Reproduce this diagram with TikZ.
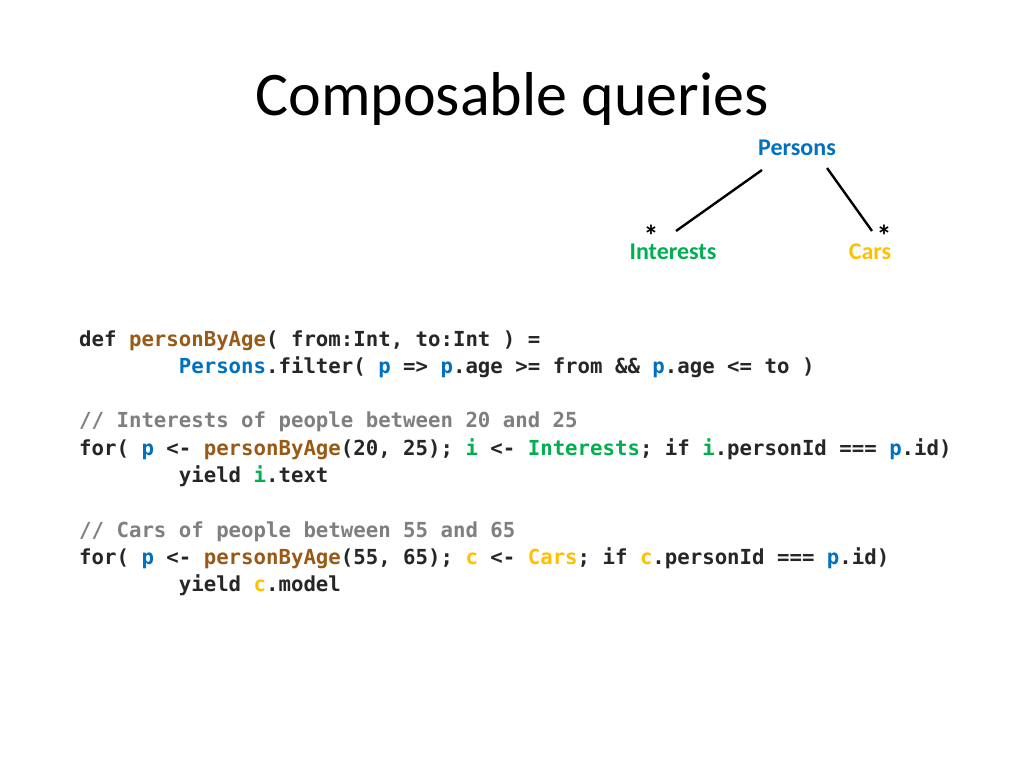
\documentclass[tikz,border=0pt]{standalone}
\usepackage{fontspec}
\setmainfont{Carlito}
\setmonofont{DejaVu Sans Mono}
\definecolor{cblue}{HTML}{0070C0}
\definecolor{cgreen}{HTML}{00B050}
\definecolor{cgold}{HTML}{FFC000}
\definecolor{cbrown}{HTML}{985A16}
\definecolor{cgray}{HTML}{7F7F7F}
\definecolor{ctext}{HTML}{262626}
\newcommand{\cb}[1]{\textcolor{cblue}{#1}}
\newcommand{\cg}[1]{\textcolor{cgreen}{#1}}
\newcommand{\cy}[1]{\textcolor{cgold}{#1}}
\newcommand{\cn}[1]{\textcolor{cbrown}{#1}}
\newcommand{\ind}{\phantom{xxxxxxxx}}
\begin{document}
\begin{tikzpicture}[x=1pt,y=-1pt,
  code/.style={anchor=base west,inner sep=0,text=ctext,font=\ttfamily\bfseries\fontsize{20.7}{24}\selectfont},
  lab/.style={font=\bfseries\fontsize{24}{26}\selectfont,inner sep=0},
  star/.style={font=\bfseries\fontsize{30}{30}\selectfont,inner sep=0,anchor=base,text height=0pt,text depth=0pt},
  link/.style={line width=2.4pt,black}]
\useasboundingbox (0,0) rectangle (1024,768);
\fill[white] (0,0) rectangle (1024,768);
\node[font=\fontsize{62}{70}\selectfont,inner sep=0] (title) at (512,99) {Composable queries};
\node[lab,text=cblue] (persons) at (797,148) {Persons};
\node[lab,text=cgreen] (interests) at (673,252) {Interests};
\node[lab,text=cgold] (cars) at (870,252) {Cars};
\node[star] (s1) at (651,246) {*};
\node[star] (s2) at (884,246) {*};
\coordinate (pa) at (762,170); \coordinate (ia) at (676,231);
\coordinate (pb) at (827,168); \coordinate (ca) at (872,231);
\draw[link] (pa) -- (ia);
\draw[link] (pb) -- (ca);
\node[code] (l1) at (79,346) {def \cn{personByAge}( from:Int, to:Int ) =};
\node[code] (l2) at (79,373) {\ind\cb{Persons}.filter( \cb{p} => \cb{p}.age >= from \&\& \cb{p}.age <= to )};
\node[code,text=cgray] (l3) at (79,427) {// Interests of people between 20 and 25};
\node[code] (l4) at (79,455) {for( \cb{p} <- \cn{personByAge}(20, 25); \cg{i} <- \cg{Interests}; if \cg{i}.personId === \cb{p}.id)};
\node[code] (l5) at (79,482) {\ind yield \cg{i}.text};
\node[code,text=cgray] (l6) at (79,537) {// Cars of people between 55 and 65};
\node[code] (l7) at (79,564) {for( \cb{p} <- \cn{personByAge}(55, 65); \cy{c} <- \cy{Cars}; if \cy{c}.personId === \cb{p}.id)};
\node[code] (l8) at (79,591) {\ind yield \cy{c}.model};
\end{tikzpicture}
\end{document}
